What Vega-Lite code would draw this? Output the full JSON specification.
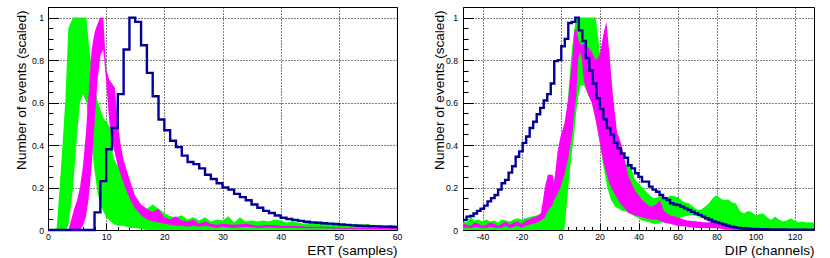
{
"$schema": "https://vega.github.io/schema/vega-lite/v6.json",
"background": "white",
"padding": {"left": 13, "top": 2, "right": 2, "bottom": 0},
"spacing": 66,
"bounds": "flush",
"config": {
 "view": {"stroke": "black", "strokeWidth": 1},
 "axis": {"domain": false, "grid": true, "gridColor": "black", "gridDash": [1, 2], "gridWidth": 1,
  "labelFont": "Liberation Sans", "labelFontSize": 8.7, "labelColor": "black", "labelFlush": false, "labelOverlap": false, "labelBound": false,
  "titleFont": "Liberation Sans", "titleFontSize": 13.6, "titleFontWeight": "normal", "titleColor": "black", "tickColor": "black", "tickWidth": 1}
},
"datasets": {
 "ertBlue": [
  {"x":0,"hi":0},{"x":1,"hi":0},{"x":2,"hi":0},{"x":3,"hi":0},{"x":4,"hi":0},{"x":5,"hi":0},{"x":6,"hi":0},{"x":7,"hi":0},
  {"x":8,"hi":0.083},{"x":9,"hi":0.23},{"x":10,"hi":0.38},{"x":11,"hi":0.48},{"x":12,"hi":0.64},{"x":13,"hi":0.85},{"x":14,"hi":1.0},{"x":15,"hi":0.98},
  {"x":16,"hi":0.87},{"x":17,"hi":0.74},{"x":18,"hi":0.63},{"x":19,"hi":0.52},{"x":20,"hi":0.47},{"x":21,"hi":0.42},{"x":22,"hi":0.39},{"x":23,"hi":0.35},
  {"x":24,"hi":0.32},{"x":25,"hi":0.31},{"x":26,"hi":0.29},{"x":27,"hi":0.26},{"x":28,"hi":0.24},{"x":29,"hi":0.22},{"x":30,"hi":0.2},{"x":31,"hi":0.19},
  {"x":32,"hi":0.17},{"x":33,"hi":0.155},{"x":34,"hi":0.14},{"x":35,"hi":0.12},{"x":36,"hi":0.105},{"x":37,"hi":0.09},{"x":38,"hi":0.08},{"x":39,"hi":0.068},
  {"x":40,"hi":0.058},{"x":41,"hi":0.052},{"x":42,"hi":0.047},{"x":43,"hi":0.043},{"x":44,"hi":0.039},{"x":45,"hi":0.036},{"x":46,"hi":0.034},{"x":47,"hi":0.032},
  {"x":48,"hi":0.03},{"x":49,"hi":0.028},{"x":50,"hi":0.026},{"x":51,"hi":0.024},{"x":52,"hi":0.022},{"x":53,"hi":0.02},{"x":54,"hi":0.019},{"x":55,"hi":0.018},
  {"x":56,"hi":0.017},{"x":57,"hi":0.016},{"x":58,"hi":0.015},{"x":59,"hi":0.014},{"x":60,"hi":0.014}
 ],
 "ertGreen": [
  {"x":0,"hi":0,"lo":0},{"x":1,"hi":0,"lo":0},{"x":1.5,"hi":0.01,"lo":0},{"x":2,"hi":0.2,"lo":0},{"x":2.5,"hi":0.4,"lo":0},{"x":3,"hi":0.62,"lo":0},
  {"x":3.5,"hi":0.95,"lo":0.02},{"x":4.3,"hi":1.0,"lo":0.2},{"x":5,"hi":1.0,"lo":0.45},{"x":5.5,"hi":1.0,"lo":0.6},{"x":6,"hi":1.0,"lo":0.64},{"x":6.6,"hi":1.0,"lo":0.6},
  {"x":7,"hi":0.88,"lo":0.5},{"x":7.5,"hi":0.76,"lo":0.4},{"x":8,"hi":0.68,"lo":0.28},{"x":8.5,"hi":0.61,"lo":0.18},{"x":9,"hi":0.57,"lo":0.12},{"x":9.5,"hi":0.53,"lo":0.09},
  {"x":10,"hi":0.51,"lo":0.06},{"x":10.8,"hi":0.48,"lo":0.04},{"x":11.2,"hi":0.34,"lo":0.03},{"x":12,"hi":0.3,"lo":0.02},{"x":13,"hi":0.24,"lo":0.02},{"x":14,"hi":0.19,"lo":0.01},
  {"x":15,"hi":0.14,"lo":0.01},{"x":16,"hi":0.115,"lo":0.005},{"x":17,"hi":0.1,"lo":0},{"x":18,"hi":0.12,"lo":0},{"x":19,"hi":0.1,"lo":0},{"x":20,"hi":0.08,"lo":0},
  {"x":21,"hi":0.065,"lo":0},{"x":22,"hi":0.06,"lo":0},{"x":23,"hi":0.07,"lo":0},{"x":24,"hi":0.05,"lo":0},{"x":25,"hi":0.06,"lo":0},{"x":26,"hi":0.045,"lo":0},
  {"x":27,"hi":0.06,"lo":0},{"x":28,"hi":0.04,"lo":0},{"x":29,"hi":0.05,"lo":0},{"x":30,"hi":0.045,"lo":0},{"x":31,"hi":0.065,"lo":0},{"x":32,"hi":0.035,"lo":0},
  {"x":33,"hi":0.06,"lo":0},{"x":34,"hi":0.04,"lo":0},{"x":35,"hi":0.045,"lo":0},{"x":36,"hi":0.04,"lo":0},{"x":37,"hi":0.045,"lo":0},{"x":38,"hi":0.04,"lo":0},
  {"x":39,"hi":0.05,"lo":0},{"x":40,"hi":0.045,"lo":0},{"x":41,"hi":0.035,"lo":0},{"x":42,"hi":0.04,"lo":0},{"x":43,"hi":0.035,"lo":0},{"x":44,"hi":0.03,"lo":0},
  {"x":45,"hi":0.04,"lo":0},{"x":46,"hi":0.03,"lo":0},{"x":47,"hi":0.035,"lo":0},{"x":48,"hi":0.03,"lo":0},{"x":49,"hi":0.035,"lo":0},{"x":50,"hi":0.025,"lo":0},
  {"x":51,"hi":0.03,"lo":0},{"x":52,"hi":0.025,"lo":0},{"x":53,"hi":0.03,"lo":0},{"x":54,"hi":0.025,"lo":0},{"x":55,"hi":0.03,"lo":0},{"x":56,"hi":0.02,"lo":0},
  {"x":57,"hi":0.025,"lo":0},{"x":58,"hi":0.02,"lo":0},{"x":59,"hi":0.025,"lo":0},{"x":60,"hi":0.02,"lo":0}
 ],
 "ertMag": [
  {"x":3.5,"hi":0,"lo":0},{"x":4,"hi":0.05,"lo":0},{"x":4.5,"hi":0.1,"lo":0},{"x":5,"hi":0.14,"lo":0},{"x":5.5,"hi":0.2,"lo":0},{"x":6,"hi":0.3,"lo":0.02},
  {"x":6.5,"hi":0.45,"lo":0.06},{"x":7,"hi":0.65,"lo":0.15},{"x":7.5,"hi":0.85,"lo":0.3},{"x":8,"hi":0.93,"lo":0.5},{"x":8.5,"hi":0.97,"lo":0.7},{"x":9,"hi":1.0,"lo":0.82},
  {"x":9.5,"hi":1.0,"lo":0.85},{"x":10,"hi":0.76,"lo":0.7},{"x":10.5,"hi":0.71,"lo":0.52},{"x":11,"hi":0.69,"lo":0.42},{"x":11.5,"hi":0.67,"lo":0.36},{"x":12,"hi":0.5,"lo":0.3},
  {"x":12.5,"hi":0.4,"lo":0.26},{"x":13,"hi":0.33,"lo":0.22},{"x":14,"hi":0.24,"lo":0.15},{"x":15,"hi":0.16,"lo":0.1},{"x":16,"hi":0.12,"lo":0.07},{"x":17,"hi":0.1,"lo":0.05},
  {"x":18,"hi":0.085,"lo":0.04},{"x":19,"hi":0.1,"lo":0.035},{"x":20,"hi":0.06,"lo":0.03},{"x":21,"hi":0.05,"lo":0.025},{"x":22,"hi":0.065,"lo":0.02},{"x":23,"hi":0.045,"lo":0.02},
  {"x":24,"hi":0.04,"lo":0.015},{"x":25,"hi":0.05,"lo":0.02},{"x":26,"hi":0.03,"lo":0.015},{"x":27,"hi":0.04,"lo":0.02},{"x":28,"hi":0.03,"lo":0.015},{"x":29,"hi":0.025,"lo":0.01},
  {"x":30,"hi":0.03,"lo":0.015},{"x":32,"hi":0.025,"lo":0.01},{"x":34,"hi":0.03,"lo":0.015},{"x":36,"hi":0.02,"lo":0.01},{"x":38,"hi":0.025,"lo":0.012},{"x":40,"hi":0.02,"lo":0.01},
  {"x":42,"hi":0.02,"lo":0.01},{"x":45,"hi":0.015,"lo":0.008},{"x":48,"hi":0.015,"lo":0.008},{"x":50,"hi":0.012,"lo":0.006},{"x":55,"hi":0.01,"lo":0.005},{"x":60,"hi":0.01,"lo":0.004}
 ],
 "dipBlue": [
  {"x":-50,"hi":0.047},{"x":-48.2,"hi":0.063},{"x":-46.4,"hi":0.066},{"x":-44.6,"hi":0.078},{"x":-42.8,"hi":0.09},{"x":-41,"hi":0.1},{"x":-39.2,"hi":0.115},{"x":-37.4,"hi":0.135},
  {"x":-35.6,"hi":0.15},{"x":-33.8,"hi":0.165},{"x":-32,"hi":0.19},{"x":-30.2,"hi":0.22},{"x":-28.4,"hi":0.236},{"x":-26.6,"hi":0.27},{"x":-24.8,"hi":0.3},{"x":-23,"hi":0.345},
  {"x":-21.2,"hi":0.37},{"x":-19.4,"hi":0.41},{"x":-17.6,"hi":0.44},{"x":-15.8,"hi":0.48},{"x":-14,"hi":0.51},{"x":-12.2,"hi":0.545},{"x":-10.4,"hi":0.575},{"x":-8.6,"hi":0.61},
  {"x":-6.8,"hi":0.64},{"x":-5,"hi":0.69},{"x":-3.2,"hi":0.795},{"x":-1.4,"hi":0.8},{"x":0.4,"hi":0.865},{"x":2.2,"hi":0.9},{"x":4,"hi":0.975},{"x":5.8,"hi":0.98},
  {"x":7.6,"hi":1.0},{"x":9.4,"hi":0.94},{"x":11.2,"hi":0.89},{"x":13,"hi":0.81},{"x":14.8,"hi":0.75},{"x":16.6,"hi":0.69},{"x":18.4,"hi":0.62},{"x":20.2,"hi":0.57},
  {"x":22,"hi":0.52},{"x":23.8,"hi":0.48},{"x":25.6,"hi":0.45},{"x":27.4,"hi":0.41},{"x":29.2,"hi":0.385},{"x":31,"hi":0.36},{"x":32.8,"hi":0.34},{"x":34.6,"hi":0.305},
  {"x":36.4,"hi":0.29},{"x":38.2,"hi":0.267},{"x":40,"hi":0.25},{"x":41.8,"hi":0.228},{"x":43.6,"hi":0.228},{"x":45.4,"hi":0.204},{"x":47.2,"hi":0.19},{"x":49,"hi":0.18},
  {"x":50.8,"hi":0.165},{"x":52.6,"hi":0.15},{"x":54.4,"hi":0.141},{"x":56.2,"hi":0.126},{"x":58,"hi":0.12},{"x":59.8,"hi":0.118},{"x":61.6,"hi":0.11},{"x":63.4,"hi":0.102},
  {"x":65.2,"hi":0.094},{"x":67,"hi":0.086},{"x":68.8,"hi":0.078},{"x":70.6,"hi":0.071},{"x":72.4,"hi":0.063},{"x":74.2,"hi":0.055},{"x":76,"hi":0.048},{"x":77.8,"hi":0.04},
  {"x":79.6,"hi":0.036},{"x":81.4,"hi":0.031},{"x":83.2,"hi":0.026},{"x":85,"hi":0.02},{"x":86.8,"hi":0.016},{"x":88.6,"hi":0.013},{"x":90.4,"hi":0.01},{"x":92.2,"hi":0.008},
  {"x":94,"hi":0.007},{"x":95.8,"hi":0.006},{"x":97.6,"hi":0.005},{"x":99.4,"hi":0.005},{"x":101.2,"hi":0.004},{"x":103,"hi":0.004},{"x":104.8,"hi":0.004},{"x":106.6,"hi":0.003},
  {"x":108.4,"hi":0.003},{"x":110.2,"hi":0.003},{"x":112,"hi":0.003},{"x":113.8,"hi":0.003},{"x":115.6,"hi":0.002},{"x":117.4,"hi":0.002},{"x":119.2,"hi":0.002},{"x":121,"hi":0.002},
  {"x":122.8,"hi":0.002},{"x":124.6,"hi":0.002},{"x":126.4,"hi":0.002},{"x":128.2,"hi":0.002},{"x":130,"hi":0.002}
 ],
 "dipGreen": [
  {"x":-50,"hi":0.04,"lo":0},{"x":-48,"hi":0.035,"lo":0},{"x":-46,"hi":0.06,"lo":0},{"x":-44,"hi":0.045,"lo":0},{"x":-42,"hi":0.05,"lo":0},{"x":-40,"hi":0.04,"lo":0},
  {"x":-38,"hi":0.05,"lo":0},{"x":-36,"hi":0.04,"lo":0},{"x":-34,"hi":0.045,"lo":0},{"x":-32,"hi":0.035,"lo":0},{"x":-30,"hi":0.05,"lo":0},{"x":-28,"hi":0.045,"lo":0},
  {"x":-26,"hi":0.04,"lo":0},{"x":-24,"hi":0.05,"lo":0},{"x":-22,"hi":0.055,"lo":0},{"x":-20,"hi":0.05,"lo":0},{"x":-18,"hi":0.055,"lo":0},{"x":-16,"hi":0.06,"lo":0},
  {"x":-14,"hi":0.065,"lo":0},{"x":-12,"hi":0.07,"lo":0},{"x":-10,"hi":0.075,"lo":0},{"x":-8,"hi":0.1,"lo":0},{"x":-6,"hi":0.16,"lo":0},{"x":-4,"hi":0.21,"lo":0},
  {"x":-2,"hi":0.28,"lo":0},{"x":0,"hi":0.36,"lo":0},{"x":2,"hi":0.44,"lo":0},{"x":3,"hi":0.52,"lo":0.1},{"x":4,"hi":0.64,"lo":0.2},{"x":5,"hi":0.76,"lo":0.3},
  {"x":6,"hi":0.86,"lo":0.38},{"x":7,"hi":0.94,"lo":0.45},{"x":8,"hi":1.0,"lo":0.55},{"x":9,"hi":1.0,"lo":0.62},{"x":10,"hi":1.0,"lo":0.68},{"x":12,"hi":1.0,"lo":0.68},
  {"x":14,"hi":1.0,"lo":0.64},{"x":16,"hi":1.0,"lo":0.6},{"x":18,"hi":1.0,"lo":0.52},{"x":20,"hi":0.85,"lo":0.42},{"x":22,"hi":0.7,"lo":0.3},{"x":24,"hi":0.55,"lo":0.2},
  {"x":26,"hi":0.45,"lo":0.14},{"x":28,"hi":0.38,"lo":0.11},{"x":30,"hi":0.33,"lo":0.1},{"x":32,"hi":0.3,"lo":0.09},{"x":34,"hi":0.31,"lo":0.085},{"x":36,"hi":0.3,"lo":0.075},
  {"x":38,"hi":0.24,"lo":0.065},{"x":40,"hi":0.22,"lo":0.055},{"x":42,"hi":0.2,"lo":0.045},{"x":44,"hi":0.18,"lo":0.04},{"x":46,"hi":0.16,"lo":0.035},{"x":48,"hi":0.15,"lo":0.03},
  {"x":50,"hi":0.155,"lo":0.03},{"x":52,"hi":0.16,"lo":0.035},{"x":54,"hi":0.15,"lo":0.04},{"x":56,"hi":0.16,"lo":0.045},{"x":58,"hi":0.16,"lo":0.05},{"x":60,"hi":0.155,"lo":0.055},
  {"x":62,"hi":0.14,"lo":0.06},{"x":64,"hi":0.13,"lo":0.065},{"x":66,"hi":0.125,"lo":0.07},{"x":68,"hi":0.11,"lo":0.07},{"x":70,"hi":0.095,"lo":0.065},{"x":72,"hi":0.095,"lo":0.06},
  {"x":74,"hi":0.11,"lo":0.05},{"x":76,"hi":0.125,"lo":0.04},{"x":78,"hi":0.15,"lo":0.03},{"x":80,"hi":0.165,"lo":0.02},{"x":82,"hi":0.15,"lo":0.01},{"x":84,"hi":0.14,"lo":0},
  {"x":86,"hi":0.145,"lo":0},{"x":88,"hi":0.13,"lo":0},{"x":90,"hi":0.125,"lo":0},{"x":92,"hi":0.09,"lo":0},{"x":94,"hi":0.078,"lo":0},{"x":96,"hi":0.09,"lo":0},
  {"x":98,"hi":0.085,"lo":0},{"x":100,"hi":0.07,"lo":0},{"x":102,"hi":0.075,"lo":0},{"x":104,"hi":0.078,"lo":0},{"x":106,"hi":0.06,"lo":0},{"x":108,"hi":0.047,"lo":0},
  {"x":110,"hi":0.063,"lo":0},{"x":112,"hi":0.05,"lo":0},{"x":114,"hi":0.04,"lo":0},{"x":116,"hi":0.045,"lo":0},{"x":118,"hi":0.055,"lo":0},{"x":120,"hi":0.045,"lo":0},
  {"x":122,"hi":0.037,"lo":0},{"x":124,"hi":0.04,"lo":0},{"x":126,"hi":0.035,"lo":0},{"x":128,"hi":0.036,"lo":0},{"x":130,"hi":0.035,"lo":0}
 ],
 "dipMag": [
  {"x":-50,"hi":0.03,"lo":0.01},{"x":-48,"hi":0.025,"lo":0.012},{"x":-46,"hi":0.02,"lo":0.008},{"x":-44,"hi":0.035,"lo":0.015},{"x":-42,"hi":0.03,"lo":0.012},{"x":-40,"hi":0.02,"lo":0.008},
  {"x":-38,"hi":0.025,"lo":0.01},{"x":-36,"hi":0.035,"lo":0.015},{"x":-34,"hi":0.03,"lo":0.012},{"x":-32,"hi":0.02,"lo":0.008},{"x":-30,"hi":0.03,"lo":0.012},{"x":-28,"hi":0.04,"lo":0.02},
  {"x":-26,"hi":0.025,"lo":0.01},{"x":-24,"hi":0.035,"lo":0.015},{"x":-22,"hi":0.04,"lo":0.02},{"x":-20,"hi":0.03,"lo":0.012},{"x":-18,"hi":0.045,"lo":0.02},{"x":-16,"hi":0.05,"lo":0.025},
  {"x":-14,"hi":0.06,"lo":0.03},{"x":-12,"hi":0.065,"lo":0.035},{"x":-10,"hi":0.08,"lo":0.045},{"x":-8,"hi":0.2,"lo":0.06},{"x":-6.5,"hi":0.26,"lo":0.09},{"x":-4,"hi":0.26,"lo":0.12},
  {"x":-3.3,"hi":0.22,"lo":0.14},{"x":-1.5,"hi":0.37,"lo":0.17},{"x":0,"hi":0.44,"lo":0.2},{"x":2,"hi":0.5,"lo":0.26},{"x":4,"hi":0.62,"lo":0.34},{"x":6,"hi":0.8,"lo":0.45},
  {"x":7,"hi":0.93,"lo":0.55},{"x":8,"hi":0.95,"lo":0.62},{"x":9,"hi":0.9,"lo":0.8},{"x":10,"hi":0.88,"lo":0.84},{"x":11,"hi":0.87,"lo":0.8},{"x":12,"hi":0.88,"lo":0.7},
  {"x":14,"hi":0.86,"lo":0.64},{"x":16,"hi":0.84,"lo":0.6},{"x":18,"hi":0.8,"lo":0.52},{"x":20,"hi":0.82,"lo":0.42},{"x":22,"hi":0.92,"lo":0.32},{"x":23.5,"hi":0.98,"lo":0.27},
  {"x":25,"hi":0.84,"lo":0.22},{"x":27,"hi":0.62,"lo":0.18},{"x":29,"hi":0.46,"lo":0.15},{"x":31,"hi":0.41,"lo":0.12},{"x":33,"hi":0.33,"lo":0.1},{"x":35,"hi":0.25,"lo":0.08},
  {"x":38,"hi":0.19,"lo":0.07},{"x":42,"hi":0.14,"lo":0.06},{"x":46,"hi":0.11,"lo":0.05},{"x":49,"hi":0.12,"lo":0.05},{"x":51,"hi":0.14,"lo":0.045},{"x":53,"hi":0.09,"lo":0.035},
  {"x":56,"hi":0.07,"lo":0.03},{"x":60,"hi":0.06,"lo":0.02},{"x":65,"hi":0.045,"lo":0.015},{"x":70,"hi":0.04,"lo":0.01},{"x":75,"hi":0.035,"lo":0.01},{"x":80,"hi":0.04,"lo":0.008},
  {"x":84,"hi":0.025,"lo":0.004},{"x":88,"hi":0.012,"lo":0.002},{"x":92,"hi":0.006,"lo":0},{"x":100,"hi":0.004,"lo":0},{"x":110,"hi":0.003,"lo":0},{"x":120,"hi":0.002,"lo":0},{"x":130,"hi":0.002,"lo":0}
 ]
},
"hconcat": [
 {
  "width": 349, "height": 223,
  "encoding": {
   "x": {"field": "x", "type": "quantitative", "scale": {"domain": [0, 60], "nice": false, "zero": false},
    "axis": {"values": [0,2,4,6,8,10,12,14,16,18,20,22,24,26,28,30,32,34,36,38,40,42,44,46,48,50,52,54,56,58,60],
     "labelExpr": "datum.value % 10 === 0 ? '' + datum.value : ''",
     "tickSize": {"condition": {"test": "datum.value % 10 === 0", "value": -7}, "value": -3.5},
     "gridOpacity": {"condition": {"test": "datum.value % 10 === 0", "value": 1}, "value": 0},
     "labelPadding": 9,
     "title": "ERT (samples)", "titleX": 349, "titleY": 24.5, "titleAlign": "right", "titleBaseline": "alphabetic", "titleAnchor": "end"}},
   "y": {"field": "hi", "type": "quantitative", "scale": {"domain": [0, 1.05], "nice": false, "zero": false},
    "axis": {"values": [0,0.05,0.1,0.15,0.2,0.25,0.3,0.35,0.4,0.45,0.5,0.55,0.6,0.65,0.7,0.75,0.8,0.85,0.9,0.95,1,1.05],
     "labelExpr": "abs(datum.value*5 - round(datum.value*5)) < 0.001 ? '' + round(datum.value*10)/10 : ''",
     "tickSize": {"condition": {"test": "abs(datum.value*5 - round(datum.value*5)) < 0.001", "value": -10.5}, "value": -5},
     "gridOpacity": {"condition": {"test": "abs(datum.value*5 - round(datum.value*5)) < 0.001", "value": 1}, "value": 0},
     "labelPadding": 15,
     "title": "Number of events (scaled)", "titleX": -23, "titleY": 3, "titleAngle": 270, "titleAlign": "right", "titleBaseline": "alphabetic", "titleAnchor": "end"}}
  },
  "layer": [
   {"data": {"name": "ertGreen"}, "mark": {"type": "area", "color": "#00ff00", "clip": true}, "encoding": {"y2": {"field": "lo"}}},
   {"data": {"name": "ertMag"}, "mark": {"type": "area", "color": "#ff00ff", "clip": true}, "encoding": {"y2": {"field": "lo"}}},
   {"data": {"name": "ertBlue"}, "mark": {"type": "line", "color": "#000099", "strokeWidth": 2.4, "interpolate": "step-after"}}
  ]
 },
 {
  "width": 351, "height": 223,
  "encoding": {
   "x": {"field": "x", "type": "quantitative", "scale": {"domain": [-50, 130], "nice": false, "zero": false},
    "axis": {"values": [-48,-44,-40,-36,-32,-28,-24,-20,-16,-12,-8,-4,0,4,8,12,16,20,24,28,32,36,40,44,48,52,56,60,64,68,72,76,80,84,88,92,96,100,104,108,112,116,120,124,128],
     "labelExpr": "datum.value % 20 === 0 ? '' + datum.value : ''",
     "tickSize": {"condition": {"test": "datum.value % 20 === 0", "value": -7}, "value": -3.5},
     "gridOpacity": {"condition": {"test": "datum.value % 20 === 0", "value": 1}, "value": 0},
     "labelPadding": 9,
     "title": "DIP (channels)", "titleX": 351, "titleY": 24.5, "titleAlign": "right", "titleBaseline": "alphabetic", "titleAnchor": "end"}},
   "y": {"field": "hi", "type": "quantitative", "scale": {"domain": [0, 1.05], "nice": false, "zero": false},
    "axis": {"values": [0,0.05,0.1,0.15,0.2,0.25,0.3,0.35,0.4,0.45,0.5,0.55,0.6,0.65,0.7,0.75,0.8,0.85,0.9,0.95,1,1.05],
     "labelExpr": "abs(datum.value*5 - round(datum.value*5)) < 0.001 ? '' + round(datum.value*10)/10 : ''",
     "tickSize": {"condition": {"test": "abs(datum.value*5 - round(datum.value*5)) < 0.001", "value": -10.5}, "value": -5},
     "gridOpacity": {"condition": {"test": "abs(datum.value*5 - round(datum.value*5)) < 0.001", "value": 1}, "value": 0},
     "labelPadding": 16,
     "title": "Number of events (scaled)", "titleX": -20, "titleY": 3, "titleAngle": 270, "titleAlign": "right", "titleBaseline": "alphabetic", "titleAnchor": "end"}}
  },
  "layer": [
   {"data": {"name": "dipGreen"}, "mark": {"type": "area", "color": "#00ff00", "clip": true}, "encoding": {"y2": {"field": "lo"}}},
   {"data": {"name": "dipMag"}, "mark": {"type": "area", "color": "#ff00ff", "clip": true}, "encoding": {"y2": {"field": "lo"}}},
   {"data": {"name": "dipBlue"}, "mark": {"type": "line", "color": "#000099", "strokeWidth": 2.4, "interpolate": "step-after"}}
  ]
 }
]
}
